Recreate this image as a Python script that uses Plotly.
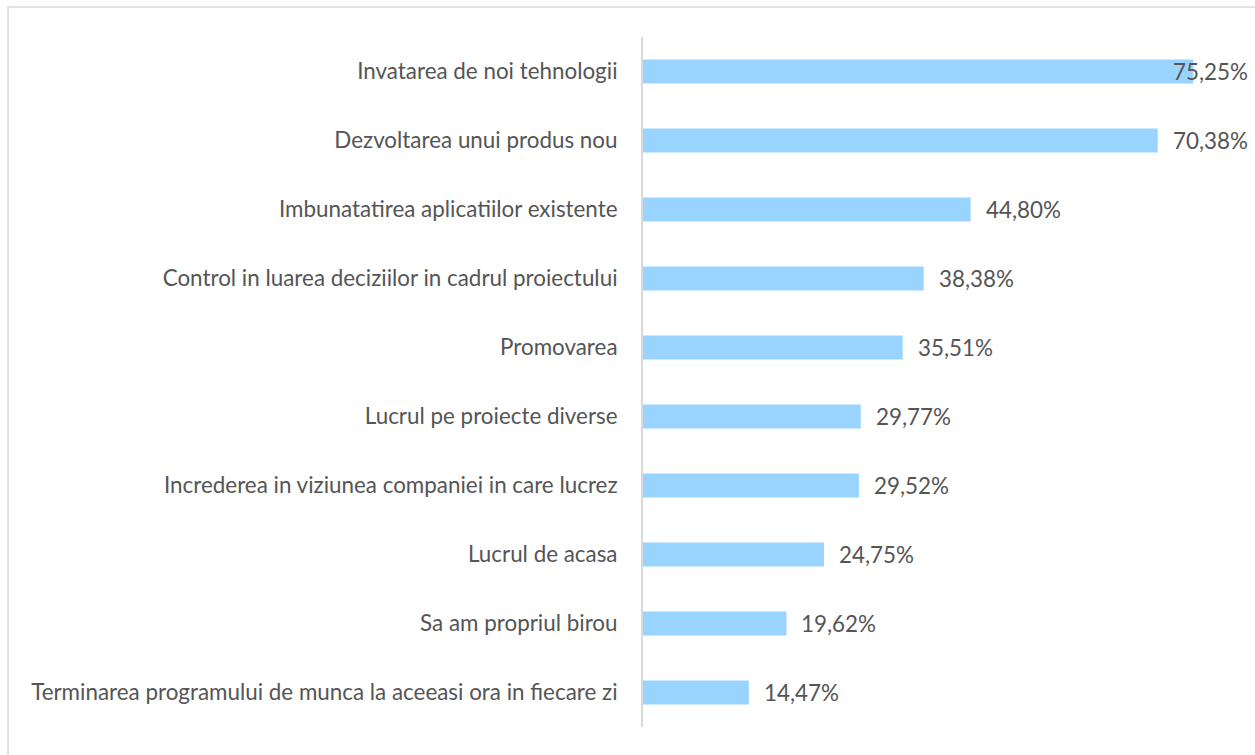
import plotly.graph_objects as go

# Motivation factors and the share of respondents choosing each one
categories = [
    "Invatarea de noi tehnologii",
    "Dezvoltarea unui produs nou",
    "Imbunatatirea aplicatiilor existente",
    "Control in luarea deciziilor in cadrul proiectului",
    "Promovarea",
    "Lucrul pe proiecte diverse",
    "Increderea in viziunea companiei in care lucrez",
    "Lucrul de acasa",
    "Sa am propriul birou",
    "Terminarea programului de munca la aceeasi ora in fiecare zi",
]
values = [75.25, 70.38, 44.80, 38.38, 35.51, 29.77, 29.52, 24.75, 19.62, 14.47]
value_labels = ["75,25%", "70,38%", "44,80%", "38,38%", "35,51%",
                "29,77%", "29,52%", "24,75%", "19,62%", "14,47%"]

FONT = "Lato"
FONT_SIZE = 22.4
TEXT_COLOR = "#555555"
BAR_COLOR = "#99D3FF"
GRID_COLOR = "#D9D9D9"
X_MAX = 83.0
LABEL_ROOM = 12.0  # data units a value label needs to the right of its bar

label_font = dict(family=FONT, size=FONT_SIZE, color=TEXT_COLOR)

fig = go.Figure(
    go.Bar(
        x=values,
        y=categories,
        orientation="h",
        marker=dict(color=BAR_COLOR, line=dict(width=0)),
        hoverinfo="x+y",
    )
)

# Value labels next to each bar; a label that would run past the edge is
# pulled back inside the plot area, aligned to its right edge.
annotations = []
for cat, v, lab in zip(categories, values, value_labels):
    if v + LABEL_ROOM > X_MAX:
        annotations.append(dict(x=1.0, xref="paper", y=cat, yref="y", text=lab,
                                xanchor="right", showarrow=False, font=label_font))
    else:
        annotations.append(dict(x=v, xref="x", y=cat, yref="y", text=lab,
                                xanchor="left", xshift=13, showarrow=False,
                                font=label_font))

# Light frame around the chart area
shapes = [dict(type="rect", xref="paper", yref="paper",
               x0=-1.0461, x1=1.0198, y0=-0.0507, y1=1.0435,
               line=dict(color=GRID_COLOR, width=1.5), fillcolor="rgba(0,0,0,0)",
               layer="below")]

fig.update_layout(
    width=1255,
    height=755,
    margin=dict(l=643, r=5, t=37, b=28),
    paper_bgcolor="white",
    plot_bgcolor="white",
    bargap=0.65,
    showlegend=False,
    font=label_font,
    xaxis=dict(range=[0, X_MAX], visible=False, fixedrange=True),
    yaxis=dict(
        autorange="reversed",
        showline=True,
        linecolor=GRID_COLOR,
        linewidth=2,
        ticks="",
        showgrid=False,
        zeroline=False,
        ticklabelstandoff=19,
        tickfont=label_font,
    ),
    annotations=annotations,
    shapes=shapes,
)

fig.write_html("out.html")
